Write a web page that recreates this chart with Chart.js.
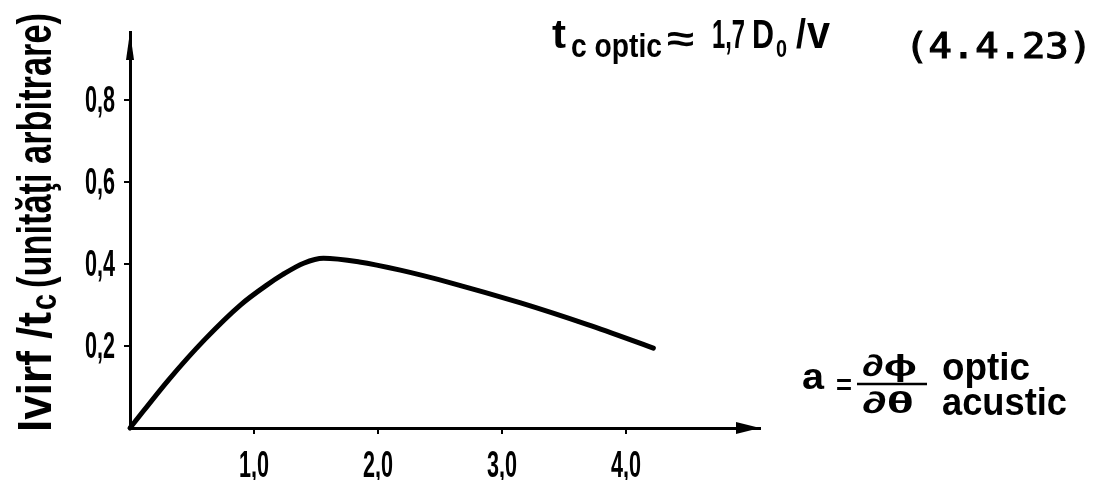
<!DOCTYPE html>
<html>
<head>
<meta charset="utf-8">
<script src="https://cdn.jsdelivr.net/npm/chart.js"></script>
<style>
  body { margin: 0; background: #fff; }
</style>
</head>
<body>
<canvas id="chart1" width="1099" height="480"></canvas>
<script>
// values
const aValues = [0, 0.31, 0.60, 0.89, 1.10, 1.23, 1.40, 1.56, 1.85, 2.18, 2.60, 3.15, 3.69, 4.22];
const iValues = [0, 0.117, 0.215, 0.300, 0.348, 0.374, 0.402, 0.414, 0.405, 0.385, 0.353, 0.305, 0.252, 0.195];
const xTicks = [1, 2, 3, 4];
const xTickLabels = ['1,0', '2,0', '3,0', '4,0'];
const yTicks = [0.2, 0.4, 0.6, 0.8];
const yTickLabels = ['0,2', '0,4', '0,6', '0,8'];

const SANS = '"Liberation Sans", "DejaVu Sans", sans-serif';
const B = 'bold ';

// draw a string squeezed (or stretched) to a given width
function fitText(c, str, x, y, font, w, stroke) {
  c.save();
  c.font = font;
  const m = c.measureText(str).width;
  c.translate(x, y);
  c.scale(w / m, 1);
  c.fillText(str, 0, 0);
  if (stroke) {
    c.lineWidth = stroke;
    c.strokeText(str, 0, 0);
  }
  c.restore();
}

// narrow tick labels, placed with the chart's own scales
function tickLabels(c, scale, labels) {
  const font = B + '36px ' + SANS;
  c.save();
  c.font = font;
  scale.ticks.forEach((t, i) => {
    const p = scale.getPixelForValue(t.value);
    const w = c.measureText(labels[i]).width * 0.6;
    if (scale.axis === 'x') {
      fitText(c, labels[i], p - w / 2, scale.top + 49, font, w);
    } else {
      fitText(c, labels[i], scale.right - 15 - w, p + 12, font, w);
    }
  });
  c.restore();
}

const decorations = {
  id: 'decorations',
  afterDraw(chart) {
    const c = chart.ctx;
    const area = chart.chartArea;
    c.save();
    c.fillStyle = '#000';
    c.strokeStyle = '#000';
    c.textAlign = 'left';
    c.textBaseline = 'alphabetic';

    // arrow heads
    c.beginPath();
    c.moveTo(area.left, area.top);
    c.lineTo(area.left + 4, area.top + 28);
    c.lineTo(area.left - 4, area.top + 28);
    c.closePath();
    c.fill();
    c.beginPath();
    c.moveTo(area.right, area.bottom);
    c.lineTo(area.right - 24, area.bottom + 6);
    c.lineTo(area.right - 24, area.bottom - 6);
    c.closePath();
    c.fill();

    tickLabels(c, chart.scales.x, xTickLabels);
    tickLabels(c, chart.scales.y, yTickLabels);

    // y axis title, rotated
    c.save();
    c.translate(51, 432);
    c.rotate(-Math.PI / 2);
    fitText(c, 'Ivirf /t', 0, 0, B + '48px ' + SANS, 120);
    fitText(c, 'c', 122, 5, B + '36px ' + SANS, 16);
    fitText(c, '(unităţi arbitrare)', 144, 0, B + '48px ' + SANS, 275);
    c.restore();

    // formula at top
    fitText(c, 't', 552, 48, B + '40px ' + SANS, 14);
    fitText(c, 'c optic', 571, 57, B + '34px ' + SANS, 91);
    fitText(c, '≈', 667, 51, B + '36px ' + SANS, 27);
    fitText(c, '1,7', 712, 48, B + '40px ' + SANS, 33);
    fitText(c, 'D', 752, 48, B + '40px ' + SANS, 22);
    fitText(c, '0', 776, 57, B + '24px ' + SANS, 11);
    fitText(c, '/', 796, 48, B + '40px ' + SANS, 10);
    fitText(c, 'v', 807, 48, B + '46px ' + SANS, 23);
    fitText(c, '(4.4.23)', 905, 58, '36px "DejaVu Sans Mono", monospace', 187, 1.2);

    // x axis label
    fitText(c, 'a', 802, 389, B + '36px ' + SANS, 22);
    fitText(c, '=', 836, 394, B + '28px ' + SANS, 16);
    fitText(c, '∂ϕ', 862, 376, B + '30px ' + SANS, 55);
    c.lineWidth = 2.5;
    c.beginPath();
    c.moveTo(857, 384);
    c.lineTo(927, 384);
    c.stroke();
    fitText(c, '∂θ', 862, 413, B + '30px ' + SANS, 52);
    fitText(c, 'optic', 942, 380, B + '38px ' + SANS, 88);
    fitText(c, 'acustic', 942, 415, B + '38px ' + SANS, 125);
    c.restore();
  }
};

const ctx = document.getElementById('chart1');

const chart1 = new Chart(ctx, {
  type: 'line',
  data: {
    labels: aValues,
    datasets: [{
      data: aValues.map((a, i) => ({ x: a, y: iValues[i] })),
      borderColor: '#000',
      borderWidth: 5,
      borderCapStyle: 'round',
      borderJoinStyle: 'round',
      pointRadius: 0,
      cubicInterpolationMode: 'monotone',
      fill: false,
      clip: false,
    }]
  },
  options: {
    responsive: false,
    animation: false,
    devicePixelRatio: 1,
    layout: { padding: { left: 0, right: 339, top: 32, bottom: 0 } },
    plugins: {
      legend: { display: false },
      tooltip: { enabled: false },
    },
    scales: {
      x: {
        type: 'linear',
        min: 0,
        max: 5.08,
        afterBuildTicks: (s) => { s.ticks = xTicks.map(v => ({ value: v })); },
        afterFit: (s) => { s.height = 52; },
        border: { display: true, color: '#000', width: 3 },
        grid: { drawOnChartArea: false, drawTicks: true, tickLength: 6, color: '#000', lineWidth: 2 },
        ticks: { display: false },
      },
      y: {
        min: 0,
        max: 0.966,
        afterBuildTicks: (s) => { s.ticks = yTicks.map(v => ({ value: v })); },
        afterFit: (s) => { s.width = 130; },
        border: { display: true, color: '#000', width: 3 },
        grid: { drawOnChartArea: false, drawTicks: true, tickLength: 6, color: '#000', lineWidth: 2 },
        ticks: { display: false },
      },
    },
  },
  plugins: [decorations],
});
</script>
</body>
</html>
